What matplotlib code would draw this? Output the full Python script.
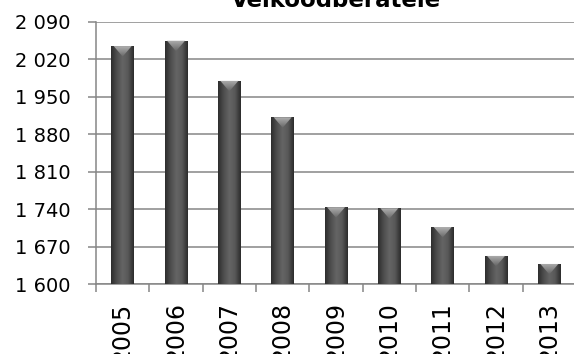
import numpy as np
import matplotlib
matplotlib.use("Agg")
import matplotlib.pyplot as plt
from matplotlib.colors import LinearSegmentedColormap
from matplotlib.patches import Polygon

# data
years = ["2005", "2006", "2007", "2008", "2009", "2010", "2011", "2012", "2013"]
values = [2045, 2055, 1980, 1912, 1744, 1742, 1707, 1653, 1638]
y_ticks = list(range(1600, 2091, 70))
title = "Velkoodběratelé"

grid_col = "#868686"

fig = plt.figure(figsize=(5.74, 3.54), dpi=100)
ax = fig.add_axes([96 / 574, 1 - 284.3 / 354, 480 / 574, (284.3 - 22) / 354])

x = np.arange(len(years))
base = y_ticks[0]
bars = ax.bar(x, [v - base for v in values], bottom=base, width=0.42,
              color="#4a4a4a", zorder=2)

# cylinder-like shading on every bar
cyl = LinearSegmentedColormap.from_list(
    "cyl", ["#2e2e2e", "#4e4e4e", "#656565", "#585858", "#2c2c2c"])
cap = LinearSegmentedColormap.from_list("cap", ["#666666", "#b0b0b0"])
hgrad = np.linspace(0, 1, 64).reshape(1, -1)
vgrad = np.linspace(0, 1, 32).reshape(-1, 1)
cap_depth = 0.04 * (y_ticks[-1] - y_ticks[0])
for b in bars:
    x0, w = b.get_x(), b.get_width()
    y0, top = b.get_y(), b.get_y() + b.get_height()
    im = ax.imshow(hgrad, cmap=cyl, extent=[x0, x0 + w, y0, top],
                   aspect="auto", zorder=3)
    im.set_clip_path(b)
    tri = Polygon([[x0 + 0.1 * w, top], [x0 + 0.9 * w, top],
                   [x0 + w / 2, top - cap_depth]],
                  closed=True, facecolor="none", edgecolor="none", zorder=4)
    ax.add_patch(tri)
    ci = ax.imshow(vgrad, cmap=cap, origin="lower",
                   extent=[x0, x0 + w, top - cap_depth, top],
                   aspect="auto", zorder=4)
    ci.set_clip_path(tri)

ax.set_xlim(-0.5, len(years) - 0.5)
ax.set_ylim(y_ticks[0], y_ticks[-1])

ax.set_yticks(y_ticks)
ax.set_yticklabels([f"{v:,}".replace(",", " ") for v in y_ticks],
                   fontsize=14, family="DejaVu Sans")
ax.tick_params(axis="y", length=5.8, width=1.1, color=grid_col, pad=12.5)

ax.set_xticks(x)
ax.set_xticklabels(years, rotation=90, fontsize=17, family="DejaVu Sans",
                   va="top")
ax.set_xticks(np.arange(-0.5, len(years)), minor=True)
ax.tick_params(axis="x", which="major", length=0, pad=13)
ax.tick_params(axis="x", which="minor", length=5.5, width=1.1,
               color=grid_col, direction="out")

ax.yaxis.grid(True, color=grid_col, linewidth=1.1, zorder=0)
ax.set_axisbelow(True)
for side in ["top", "right"]:
    ax.spines[side].set_visible(False)
for side in ["left", "bottom"]:
    ax.spines[side].set_color(grid_col)
    ax.spines[side].set_linewidth(1.1)

fig.text(336 / 574, 1 - 6.7 / 354, title, ha="center", va="baseline",
         fontsize=16.5, fontweight="bold", family="DejaVu Sans")

fig.savefig("out.png", dpi=100)
